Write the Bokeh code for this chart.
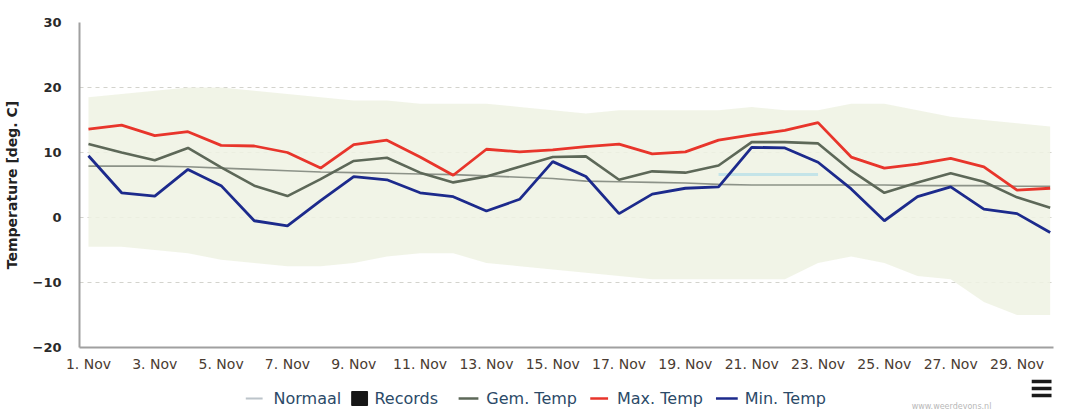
from bokeh.plotting import figure
from bokeh.models import FixedTicker
from bokeh.layouts import column
from bokeh.core.properties import value
from bokeh.embed import file_html
from bokeh.resources import INLINE

# ---------------- data ----------------
days = list(range(1, 31))
tick_days = list(range(1, 30, 2))
tick_labels = [f"{d}. Nov" for d in tick_days]
y_ticks = [-20, -10, 0, 10, 20, 30]

max_temp = [13.6, 14.2, 12.6, 13.2, 11.1, 11.0, 10.0, 7.6, 11.2, 11.9,
            9.3, 6.5, 10.5, 10.1, 10.4, 10.9, 11.3, 9.8, 10.1, 11.9,
            12.7, 13.4, 14.6, 9.3, 7.6, 8.2, 9.1, 7.8, 4.2, 4.5]
gem_temp = [11.3, 10.0, 8.8, 10.7, 7.7, 4.9, 3.3, 5.9, 8.7, 9.2,
            6.9, 5.4, 6.3, 7.8, 9.3, 9.4, 5.8, 7.1, 6.9, 8.0,
            11.6, 11.6, 11.4, 7.2, 3.8, 5.4, 6.8, 5.5, 3.1, 1.5]
min_temp = [9.5, 3.8, 3.3, 7.4, 4.9, -0.5, -1.3, 2.6, 6.3, 5.8,
            3.8, 3.2, 1.0, 2.8, 8.6, 6.3, 0.6, 3.6, 4.5, 4.7,
            10.8, 10.7, 8.5, 4.4, -0.5, 3.2, 4.7, 1.3, 0.6, -2.3]
normaal = [7.9, 7.9, 7.9, 7.8, 7.6, 7.4, 7.2, 7.0, 6.9, 6.8,
           6.7, 6.6, 6.4, 6.2, 6.0, 5.6, 5.5, 5.4, 5.3, 5.1,
           5.0, 5.0, 5.0, 5.0, 5.0, 4.9, 4.9, 4.9, 4.8, 4.8]
normaal_hi_days = [20, 21, 22, 23]
normaal_hi = [6.6, 6.6, 6.6, 6.6]
record_max = [18.5, 19.0, 19.5, 20.0, 20.0, 19.5, 19.0, 18.5, 18.0, 18.0,
              17.5, 17.5, 17.5, 17.0, 16.5, 16.0, 16.5, 16.5, 16.5, 16.5,
              17.0, 16.5, 16.5, 17.5, 17.5, 16.5, 15.5, 15.0, 14.5, 14.0]
record_min = [-4.5, -4.5, -5.0, -5.5, -6.5, -7.0, -7.5, -7.5, -7.0, -6.0,
              -5.5, -5.5, -7.0, -7.5, -8.0, -8.5, -9.0, -9.5, -9.5, -9.5,
              -9.5, -9.5, -7.0, -6.0, -7.0, -9.0, -9.5, -13.0, -15.0, -15.0]

legend_labels = ["Normaal", "Records", "Gem. Temp", "Max. Temp", "Min. Temp"]
legend_colors = ["#bcc4ca", "#161616", "#5d6858", "#e8352b", "#1c2a8c"]

FONT = "DejaVu Sans"
C_NORM, C_NORM_HI, C_REC = "#8c9288", "#c4e4e8", "#eef2e3"

# ---------------- main chart ----------------
p = figure(width=1059, height=374, output_backend="svg", toolbar_location=None,
           x_range=(0.73, 30.1), y_range=(-20, 30),
           min_border_left=69, min_border_right=6, min_border_top=22,
           min_border_bottom=25, outline_line_color=None,
           background_fill_color="white", border_fill_color="white")

p.varea(x=days, y1=record_min, y2=record_max, fill_color=C_REC, fill_alpha=0.85)
p.line(days, normaal, line_color=C_NORM, line_width=1.6)
p.line(normaal_hi_days, normaal_hi, line_color=C_NORM_HI, line_width=3)
p.line(days, gem_temp, line_color=legend_colors[2], line_width=2.6)
p.line(days, max_temp, line_color=legend_colors[3], line_width=2.8)
p.line(days, min_temp, line_color=legend_colors[4], line_width=2.8)

p.xaxis.ticker = FixedTicker(ticks=tick_days)
p.xaxis.major_label_overrides = {d: l for d, l in zip(tick_days, tick_labels)}
p.xaxis.major_label_text_font = FONT
p.xaxis.major_label_text_font_size = "14px"
p.xaxis.major_label_text_color = "#4a3c32"
p.xaxis.major_tick_line_color = None
p.xaxis.minor_tick_line_color = None
p.xaxis.axis_line_color = "#a0a0a0"
p.xaxis.axis_line_width = 2
p.xaxis.major_label_standoff = 2

p.yaxis.ticker = FixedTicker(ticks=y_ticks)
p.yaxis.major_label_text_font = FONT
p.yaxis.major_label_text_font_size = "13px"
p.yaxis.major_label_text_font_style = "bold"
p.yaxis.major_label_text_color = "#2a2a2a"
p.yaxis.major_tick_line_color = None
p.yaxis.minor_tick_line_color = None
p.yaxis.axis_line_color = "#a0a0a0"
p.yaxis.axis_line_width = 2
p.yaxis.major_label_standoff = 12
p.yaxis.axis_label = "Temperature [deg. C]"
p.yaxis.axis_label_text_font = FONT
p.yaxis.axis_label_text_font_size = "14px"
p.yaxis.axis_label_text_font_style = "bold"
p.yaxis.axis_label_text_color = "#222222"
p.yaxis.axis_label_standoff = 10

p.xgrid.grid_line_color = None
p.ygrid.grid_line_color = "#c8c8c0"
p.ygrid.grid_line_dash = "4 4"
p.ygrid.grid_line_alpha = 0.8

# ---------------- legend strip (page-pixel coordinates) ----------------
H = 36
lf = figure(width=1059, height=H, output_backend="svg", toolbar_location=None,
            x_range=(77, 1061), y_range=(0, H),
            min_border_left=69, min_border_right=6, min_border_top=0,
            min_border_bottom=0, outline_line_color=None,
            border_fill_color="white", background_fill_color="white")
lf.axis.visible = False
lf.grid.visible = False

sym_x = [245, 352, 460, 593, 720]
sym_w = [17, 16, 20, 18, 22]
txt_x = [273, 375, 488, 620, 749]
yc = H - 24
for i in [0, 2, 3, 4]:
    lf.line([sym_x[i], sym_x[i] + sym_w[i]], [yc, yc], line_color=legend_colors[i],
            line_width=2 if i == 0 else 2.5)
lf.quad(left=sym_x[1], right=sym_x[1] + sym_w[1], bottom=yc - 7, top=yc + 7,
        fill_color=legend_colors[1], line_color=legend_colors[1])
lf.text(x=txt_x, y=[yc] * 5, text=legend_labels, text_font=value(FONT),
        text_font_size="16px", text_color="#2b4a68", text_baseline="middle",
        text_align="left")

# menu icon (three bars)
lf.rect(x=[1049] * 3, y=[H - 7, H - 14, H - 21], width=20, height=3.5,
        fill_color="#1a1a1a", line_color=None)
# credit
lf.text(x=[958], y=[4], text=["www.weerdevons.nl"], text_font=value(FONT),
        text_font_size="8px", text_color="#b8b8b8", text_align="center",
        text_baseline="middle")

layout = column(p, lf, spacing=0)
open("out.html", "w").write(file_html(layout, INLINE))
